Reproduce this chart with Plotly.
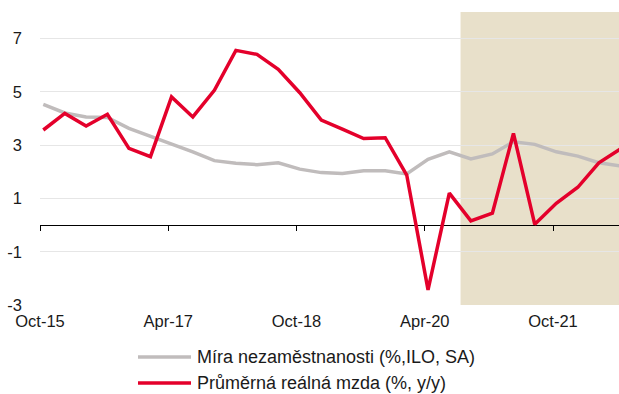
import plotly.graph_objects as go

# Quarterly observations, Oct-15 .. Jul-22
quarters = [
    "2015-10", "2016-01", "2016-04", "2016-07", "2016-10", "2017-01", "2017-04",
    "2017-07", "2017-10", "2018-01", "2018-04", "2018-07", "2018-10", "2019-01",
    "2019-04", "2019-07", "2019-10", "2020-01", "2020-04", "2020-07", "2020-10",
    "2021-01", "2021-04", "2021-07", "2021-10", "2022-01", "2022-04", "2022-07",
]
unemployment = [
    4.53, 4.21, 4.06, 4.04, 3.63, 3.34, 3.07, 2.75, 2.42, 2.32, 2.27, 2.34, 2.10, 1.97,
    1.94, 2.04, 2.04, 1.92, 2.47, 2.75, 2.48, 2.67, 3.13, 3.03, 2.75, 2.59, 2.34, 2.22,
]
real_wage = [
    3.57, 4.19, 3.72, 4.16, 2.88, 2.57, 4.81, 4.06, 5.06, 6.56, 6.41, 5.85, 4.97, 3.94,
    3.60, 3.25, 3.28, 1.88, -2.43, 1.20, 0.16, 0.45, 3.44, 0.03, 0.82, 1.42, 2.34, 2.85,
]
series_names = ["Míra nezaměstnanosti (%,ILO, SA)", "Průměrná reálná mzda (%, y/y)"]
tick_dates = ["2015-10-01", "2017-04-01", "2018-10-01", "2020-04-01", "2021-10-01"]
tick_labels = ["Oct-15", "Apr-17", "Oct-18", "Apr-20", "Oct-21"]
y_ticks = [-3, -1, 1, 3, 5, 7]
y_tick_labels = ["-3", "-1", "1", "3", "5", "7"]
forecast_start = "2020-09-01"

x_range = ["2015-10-01", "2022-07-10"]
y_range = [-3, 8]

GRAY = "#C0BCBC"
RED = "#E4002B"
SHADE = "#E8E0CA"
FONT = "Liberation Sans, Arial, sans-serif"

# data points sit in the middle of their month
xs = [q + "-15" for q in quarters]

fig = go.Figure()
fig.add_trace(go.Scatter(x=xs, y=unemployment, mode="lines", name=series_names[0],
                         line=dict(color=GRAY, width=3.5), showlegend=False))
fig.add_trace(go.Scatter(x=xs, y=real_wage, mode="lines", name=series_names[1],
                         line=dict(color=RED, width=3.5), showlegend=False))
# helper trace that carries the tick-mark axis drawn on the zero line
fig.add_trace(go.Scatter(x=[xs[0]], y=[0], xaxis="x2", mode="markers",
                         marker=dict(opacity=0), hoverinfo="skip", showlegend=False))

zero_pos = (0 - y_range[0]) / (y_range[1] - y_range[0])

fig.update_layout(
    width=619, height=394,
    margin=dict(l=40, r=0, t=12, b=89),
    paper_bgcolor="white", plot_bgcolor="white",
    font=dict(family=FONT, size=16.5, color="#1a1a1a"),
    xaxis=dict(type="date", range=x_range, tickvals=tick_dates, ticktext=tick_labels,
               showgrid=False, showline=False, ticks="", zeroline=False,
               ticklabelstandoff=4),
    xaxis2=dict(type="date", range=x_range, tickvals=tick_dates, ticktext=tick_labels,
                overlaying="x", anchor="free", position=zero_pos,
                showgrid=False, showline=False, showticklabels=False,
                ticks="outside", ticklen=5, tickwidth=1, tickcolor="black"),
    yaxis=dict(range=y_range, tickvals=y_ticks, ticktext=y_tick_labels,
               showgrid=True, gridcolor="#E6E6E6",
               gridwidth=1, zeroline=True, zerolinecolor="black", zerolinewidth=1,
               showline=False, ticks="", ticklabelstandoff=17),
    shapes=[dict(type="rect", xref="x", yref="paper", x0=forecast_start, x1=x_range[1],
                 y0=0, y1=1, fillcolor=SHADE, line=dict(width=0), layer="below")],
    showlegend=False,
)

# legend drawn as line samples with labels beneath the plot
legend_rows = [(series_names[0], GRAY, 357), (series_names[1], RED, 383)]
for name, color, ypx in legend_rows:
    yp = 1 - (ypx - 12) / (394 - 12 - 89)
    fig.add_shape(type="line", xref="paper", yref="paper",
                  x0=(138 - 40) / 579, x1=(191 - 40) / 579, y0=yp, y1=yp,
                  line=dict(color=color, width=3.5))
    fig.add_annotation(text=name, xref="paper", yref="paper", x=(195 - 40) / 579, y=yp,
                       xanchor="left", yanchor="middle", showarrow=False,
                       font=dict(family=FONT, size=18, color="#1a1a1a"))

fig.write_html("out.html")
